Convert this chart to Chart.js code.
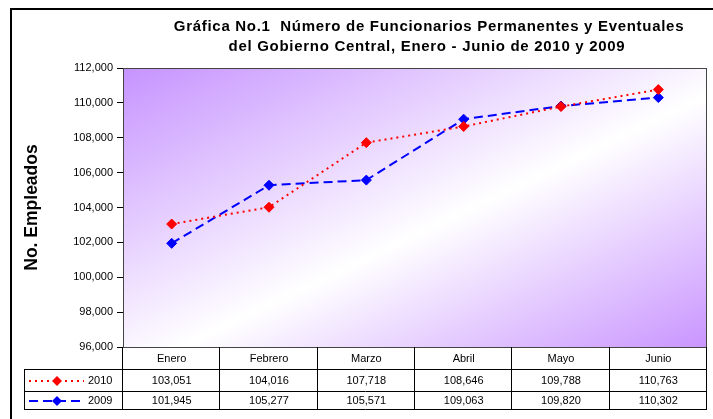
<!DOCTYPE html>
<html>
<head>
<meta charset="utf-8">
<script src="https://cdn.jsdelivr.net/npm/chart.js@4.4.1/dist/chart.umd.min.js"></script>
<style>
  body { margin: 0; background: #fff; }
</style>
</head>
<body>
<canvas id="empleados-chart" width="713" height="419"></canvas>
<script>
const meses = ['Enero', 'Febrero', 'Marzo', 'Abril', 'Mayo', 'Junio'];
const datos2010 = [103051, 104016, 107718, 108646, 109788, 110763];
const datos2009 = [101945, 105277, 105571, 109063, 109820, 110302];
const titulo = ['Gráfica No.1  Número de Funcionarios Permanentes y Eventuales',
                'del Gobierno Central, Enero - Junio de 2010 y 2009'];
const tituloEje = 'No. Empleados';

const series = [
    { label: '2010', data: datos2010, color: '#ff0000', dash: [2, 4] },
    { label: '2009', data: datos2009, color: '#0000ff', dash: [9, 5] }
];

const fmt = (v) => v.toLocaleString('en-US');
const FONT = '"Liberation Sans", Arial, sans-serif';

function diamond(ctx, x, y, r, color) {
    ctx.beginPath();
    ctx.moveTo(x, y - r);
    ctx.lineTo(x + r, y);
    ctx.lineTo(x, y + r);
    ctx.lineTo(x - r, y);
    ctx.closePath();
    ctx.fillStyle = color;
    ctx.fill();
}

const tablaPlugin = {
    id: 'tabla',
    beforeDraw(chart) {
        const { ctx, chartArea: a } = chart;
        ctx.save();
        // outer frame
        ctx.strokeStyle = '#000';
        ctx.lineWidth = 2;
        ctx.beginPath();
        ctx.moveTo(11, 419);
        ctx.lineTo(11, 9);
        ctx.lineTo(713, 9);
        ctx.stroke();

        // plot background, diagonal gradient
        const cx = (a.left + a.right) / 2, cy = (a.top + a.bottom) / 2;
        const w = a.right - a.left, h = a.bottom - a.top;
        const len = Math.hypot(w, h);
        const ux = h / len, uy = w / len;
        const d = (w / 2 * ux + h / 2 * uy);
        const g = ctx.createLinearGradient(cx - d * ux, cy - d * uy, cx + d * ux, cy + d * uy);
        g.addColorStop(0, '#c693ff');
        g.addColorStop(0.55, '#ffffff');
        g.addColorStop(1, '#c995ff');
        ctx.fillStyle = g;
        ctx.fillRect(a.left, a.top, w, h);

        // title
        ctx.fillStyle = '#000';
        ctx.font = 'bold 15px ' + FONT;
        ctx.letterSpacing = '0.7px';
        ctx.textAlign = 'center';
        ctx.textBaseline = 'middle';
        ctx.fillText(titulo[0], 429, 27);
        ctx.fillText(titulo[1], 427, 47);
        ctx.letterSpacing = '0px';

        // y axis title
        ctx.translate(32, (a.top + a.bottom) / 2);
        ctx.rotate(-Math.PI / 2);
        ctx.font = 'bold 17.5px ' + FONT;
        ctx.fillText(tituloEje, 0, 0);
        ctx.restore();
    },
    afterDraw(chart) {
        const { ctx, chartArea: a, scales } = chart;
        const x = scales.x;
        const colW = (a.right - a.left) / meses.length;
        const rows = [a.bottom, a.bottom + 22, a.bottom + 44, a.bottom + 62];
        const legendLeft = 24;

        ctx.save();
        // plot border
        ctx.strokeStyle = '#444';
        ctx.lineWidth = 1;
        ctx.strokeRect(a.left + 0.5, a.top + 0.5, a.right - a.left - 1, a.bottom - a.top);

        ctx.strokeStyle = '#000';
        ctx.beginPath();
        for (let i = 1; i < rows.length; i++) {
            ctx.moveTo(legendLeft, rows[i] + 0.5);
            ctx.lineTo(a.right, rows[i] + 0.5);
        }
        for (let i = 0; i <= meses.length; i++) {
            const cxp = Math.round(a.left + i * colW) - 0.5;
            ctx.moveTo(cxp, rows[0]);
            ctx.lineTo(cxp, rows[3]);
        }
        ctx.moveTo(legendLeft + 0.5, rows[1]);
        ctx.lineTo(legendLeft + 0.5, rows[3]);
        ctx.stroke();

        ctx.fillStyle = '#000';
        ctx.font = '11px ' + FONT;
        ctx.textAlign = 'center';
        ctx.textBaseline = 'middle';
        meses.forEach((m, i) => {
            ctx.fillText(m, x.getPixelForValue(i), (rows[0] + rows[1]) / 2 + 1);
        });

        series.forEach((s, r) => {
            const yMid = (rows[r + 1] + rows[r + 2]) / 2 + 1;
            s.data.forEach((v, i) => {
                ctx.fillText(fmt(v), x.getPixelForValue(i), yMid);
            });
            // legend key
            ctx.save();
            ctx.strokeStyle = s.color;
            ctx.lineWidth = 2;
            ctx.setLineDash(s.dash);
            ctx.beginPath();
            ctx.moveTo(29, yMid);
            ctx.lineTo(84, yMid);
            ctx.stroke();
            ctx.restore();
            diamond(ctx, 57, yMid, 5, s.color);
            ctx.textAlign = 'left';
            ctx.fillStyle = '#000';
            ctx.font = '11px ' + FONT;
            ctx.fillText(s.label, 88, yMid);
            ctx.textAlign = 'center';
        });
        ctx.restore();
    }
};

const canvas = document.getElementById('empleados-chart');
new Chart(canvas, {
    type: 'line',
    data: {
        labels: meses,
        datasets: series.map((s) => ({
            label: s.label,
            data: s.data,
            borderColor: s.color,
            backgroundColor: s.color,
            borderWidth: 2,
            borderDash: s.dash,
            pointStyle: 'rectRot',
            pointRadius: 5,
            pointBorderWidth: 1,
            tension: 0,
            fill: false
        }))
    },
    options: {
        responsive: false,
        devicePixelRatio: 1,
        animation: false,
        layout: { padding: { top: 68, bottom: 72, left: 0, right: 1 } },
        plugins: {
            legend: { display: false },
            tooltip: { enabled: false }
        },
        scales: {
            x: {
                display: false,
                offset: true
            },
            y: {
                min: 96000,
                max: 112000,
                afterFit: (scale) => { scale.width = 123; },
                ticks: {
                    stepSize: 2000,
                    padding: 4,
                    color: '#000',
                    font: { family: FONT, size: 11 },
                    callback: (v) => fmt(v)
                },
                grid: {
                    drawOnChartArea: false,
                    drawTicks: true,
                    tickLength: 6,
                    color: '#000'
                },
                border: { color: '#000', width: 1 }
            }
        }
    },
    plugins: [tablaPlugin]
});
</script>
</body>
</html>
